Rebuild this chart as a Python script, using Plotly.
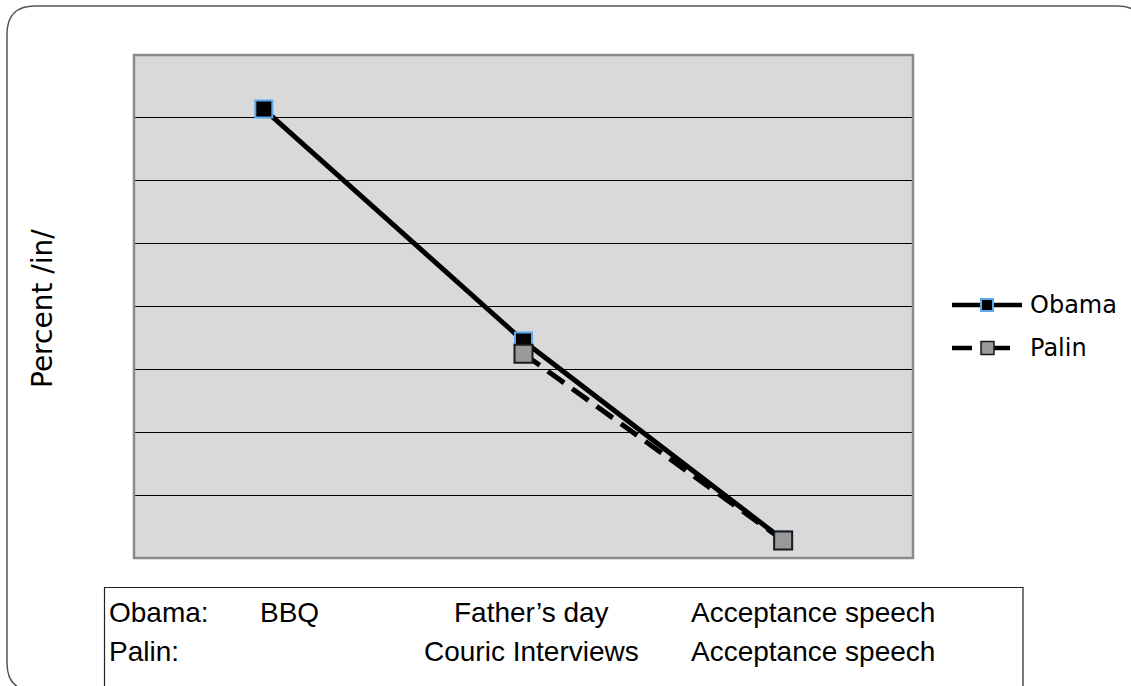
import plotly.graph_objects as go

# Events on each series' timeline (shared category slots)
slots = [0, 1, 2]
obama_events = ["BBQ", "Father\u2019s day", "Acceptance speech"]
palin_events = ["", "Couric Interviews", "Acceptance speech"]

# Percent /in/ for each event
obama_pct = [7.14, 3.45, 0.29]
palin_pct = [None, 3.25, 0.28]

W, H = 1131, 686
L, R, T, B = 134, 913, 55, 558


def px(x):
    return (x - L) / (R - L)


def py(y):
    return (B - y) / (B - T)


fig = go.Figure()

fig.add_trace(go.Scatter(
    x=slots, y=obama_pct, name="Obama", mode="lines+markers",
    line=dict(color="#000000", width=5),
    marker=dict(symbol="square", size=17, color="#000000",
                line=dict(color="#5aa8ee", width=2)),
    showlegend=False,
))
fig.add_trace(go.Scatter(
    x=slots, y=palin_pct, name="Palin", mode="lines+markers",
    line=dict(color="#000000", width=5, dash="20px,10px"),
    marker=dict(symbol="square", size=18, color="#999999",
                line=dict(color="#1a1a1a", width=2)),
    showlegend=False,
))

shapes = []
# rounded outer frame
x0, y0, x1, y1, r = 7, 6, 1145, 691, 28
path = (f"M {px(x0 + r)},{py(y0)} L {px(x1 - r)},{py(y0)} "
        f"Q {px(x1)},{py(y0)} {px(x1)},{py(y0 + r)} L {px(x1)},{py(y1 - r)} "
        f"Q {px(x1)},{py(y1)} {px(x1 - r)},{py(y1)} L {px(x0 + r)},{py(y1)} "
        f"Q {px(x0)},{py(y1)} {px(x0)},{py(y1 - r)} L {px(x0)},{py(y0 + r)} "
        f"Q {px(x0)},{py(y0)} {px(x0 + r)},{py(y0)} Z")
shapes.append(dict(type="path", xref="paper", yref="paper", path=path,
                   line=dict(color="#555555", width=1.5), layer="below"))
# plot area border
shapes.append(dict(type="rect", xref="paper", yref="paper", x0=0, x1=1, y0=0, y1=1,
                   line=dict(color="#8a8a8a", width=2.5), layer="above"))
# event table box
shapes.append(dict(type="rect", xref="paper", yref="paper",
                   x0=px(104.5), x1=px(1023), y0=py(587.5), y1=py(700),
                   line=dict(color="#222222", width=1.2)))

# legend glyphs
ly_o, ly_p = 305, 348
shapes.append(dict(type="line", xref="paper", yref="paper",
                   x0=px(952), x1=px(1022), y0=py(ly_o), y1=py(ly_o),
                   line=dict(color="#000000", width=4.5)))
shapes.append(dict(type="rect", xref="paper", yref="paper",
                   x0=px(981), x1=px(993), y0=py(ly_o + 6), y1=py(ly_o - 6),
                   fillcolor="#000000", line=dict(color="#5aa8ee", width=2)))
shapes.append(dict(type="line", xref="paper", yref="paper",
                   x0=px(952), x1=px(972), y0=py(ly_p), y1=py(ly_p),
                   line=dict(color="#000000", width=4.5)))
shapes.append(dict(type="line", xref="paper", yref="paper",
                   x0=px(994), x1=px(1010), y0=py(ly_p), y1=py(ly_p),
                   line=dict(color="#000000", width=4.5)))
shapes.append(dict(type="rect", xref="paper", yref="paper",
                   x0=px(981), x1=px(994), y0=py(ly_p + 6.5), y1=py(ly_p - 6.5),
                   fillcolor="#999999", line=dict(color="#1a1a1a", width=1.5)))

annotations = []
annotations.append(dict(text="Obama", xref="paper", yref="paper", x=px(1028), y=py(ly_o),
                        xanchor="left", yanchor="middle", showarrow=False,
                        font=dict(family="DejaVu Sans", size=24, color="#000000")))
annotations.append(dict(text="Palin", xref="paper", yref="paper", x=px(1028), y=py(ly_p),
                        xanchor="left", yanchor="middle", showarrow=False,
                        font=dict(family="DejaVu Sans", size=24, color="#000000")))
annotations.append(dict(text="Percent /in/", xref="paper", yref="paper", x=px(42), y=py(309),
                        xanchor="center", yanchor="middle", textangle=-90, showarrow=False,
                        font=dict(family="DejaVu Sans", size=28, color="#000000")))

# event table rows
tfont = dict(family="Liberation Sans, Arial", size=28, color="#000000")
row_y = {"Obama": 612, "Palin": 651}
col_cx = [289, 531, 813]
annotations.append(dict(text="Obama:", xref="paper", yref="paper", x=px(107), y=py(row_y["Obama"]),
                        xanchor="left", yanchor="middle", showarrow=False, font=tfont))
annotations.append(dict(text="Palin:", xref="paper", yref="paper", x=px(107), y=py(row_y["Palin"]),
                        xanchor="left", yanchor="middle", showarrow=False, font=tfont))
for cx, ev in zip(col_cx, obama_events):
    if ev:
        annotations.append(dict(text=ev, xref="paper", yref="paper", x=px(cx), y=py(row_y["Obama"]),
                                xanchor="center", yanchor="middle", showarrow=False, font=tfont))
for cx, ev in zip(col_cx, palin_events):
    if ev:
        annotations.append(dict(text=ev, xref="paper", yref="paper", x=px(cx), y=py(row_y["Palin"]),
                                xanchor="center", yanchor="middle", showarrow=False, font=tfont))

fig.update_layout(
    width=W, height=H,
    margin=dict(l=L, r=W - R, t=T, b=H - B, pad=0),
    paper_bgcolor="#ffffff", plot_bgcolor="#d9d9d9",
    shapes=shapes, annotations=annotations,
    showlegend=False,
    xaxis=dict(range=[-0.5, 2.5], showgrid=False, zeroline=False, showticklabels=False,
               ticks="", fixedrange=True),
    yaxis=dict(range=[0, 8], dtick=1, showgrid=True, gridcolor="#000000", gridwidth=1,
               zeroline=False, showticklabels=False, ticks="", fixedrange=True),
)

fig.write_html("out.html")
